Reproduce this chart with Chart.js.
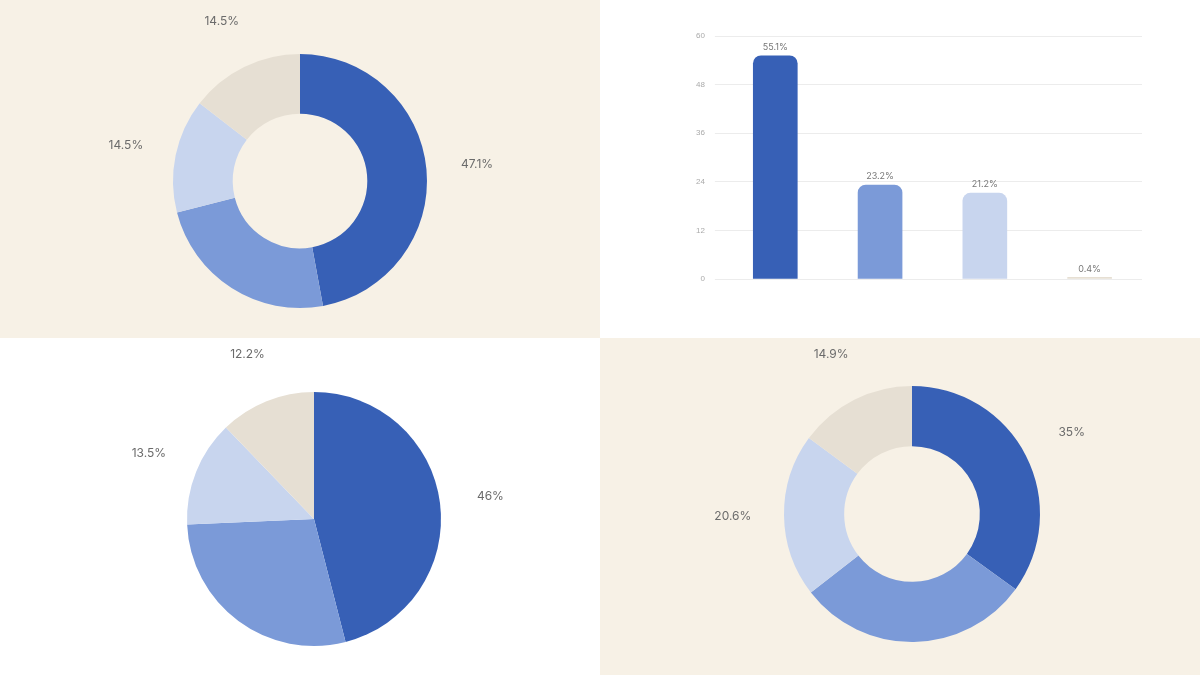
<!DOCTYPE html>
<html>
<head>
<meta charset="utf-8">
<script src="https://cdn.jsdelivr.net/npm/chart.js@4"></script>
<style>
  html, body { margin: 0; padding: 0; width: 1200px; height: 675px; overflow: hidden; font-family: Inter, sans-serif; }
  .grid { display: grid; grid-template-columns: 600px 600px; grid-template-rows: 337.5px 337.5px; }
  .cell { position: relative; }
  .beige { background: #F7F1E6; }
  canvas { display: block; }
</style>
</head>
<body>
<div class="grid">
  <div class="cell beige"><canvas id="c1" width="600" height="337"></canvas></div>
  <div class="cell"><canvas id="c2" width="600" height="337"></canvas></div>
  <div class="cell"><canvas id="c3" width="600" height="337"></canvas></div>
  <div class="cell beige"><canvas id="c4" width="600" height="337"></canvas></div>
</div>
<script>
const COLORS = ['#3760B6', '#7B9AD8', '#C8D5EE', '#E6DFD3'];
const LABELS = ['A', 'B', 'C', 'D'];

const donutTop = [47.1, 23.9, 14.5, 14.5];
const barValues = [55.1, 23.2, 21.2, 0.4];
const pieValues = [46, 28.3, 13.5, 12.2];
const donutBottom = [35, 29.5, 20.6, 14.9];
const hiddenLabel = 1; // second slice is not labelled in the reference

const outsideLabels = {
  id: 'outsideLabels',
  afterDatasetsDraw(chart) {
    const { ctx } = chart;
    const meta = chart.getDatasetMeta(0);
    const data = chart.data.datasets[0].data;
    ctx.save();
    ctx.font = '12px Inter, sans-serif';
    ctx.fillStyle = '#6b6b6b';
    ctx.textAlign = 'center';
    ctx.textBaseline = 'middle';
    meta.data.forEach((arc, i) => {
      if (i === hiddenLabel) return;
      const mid = (arc.startAngle + arc.endAngle) / 2;
      const r = arc.outerRadius * 1.4;
      ctx.fillText(data[i] + '%', arc.x + Math.cos(mid) * r, arc.y + Math.sin(mid) * r);
    });
    ctx.restore();
  },
};

const barLabels = {
  id: 'barLabels',
  afterDatasetsDraw(chart) {
    const { ctx } = chart;
    const meta = chart.getDatasetMeta(0);
    ctx.save();
    ctx.font = '9px Inter, sans-serif';
    ctx.fillStyle = '#777';
    ctx.textAlign = 'center';
    ctx.textBaseline = 'bottom';
    meta.data.forEach((bar, i) => {
      ctx.fillText(barValues[i] + '%', bar.x, bar.y - 4);
    });
    ctx.restore();
  },
};

function makeRound(id, values, cutout, padding) {
  return new Chart(document.getElementById(id), {
    type: 'doughnut',
    data: { labels: LABELS, datasets: [{ data: values, backgroundColor: COLORS, borderWidth: 0 }] },
    options: {
      responsive: false,
      animation: false,
      cutout: cutout,
      layout: { padding: padding },
      plugins: { legend: { display: false }, tooltip: { enabled: false } },
    },
    plugins: [outsideLabels],
  });
}

makeRound('c1', donutTop, '53%', { top: 54, bottom: 29, left: 0, right: 0 });
makeRound('c3', pieValues, 0, { top: 54, bottom: 29, left: 28, right: 0 });
makeRound('c4', donutBottom, '53%', { top: 48, bottom: 33, left: 24, right: 0 });

new Chart(document.getElementById('c2'), {
  type: 'bar',
  data: {
    labels: LABELS,
    datasets: [{
      data: barValues,
      backgroundColor: COLORS,
      borderRadius: { topLeft: 8, topRight: 8 },
      borderSkipped: 'bottom',
      barThickness: 44,
    }],
  },
  options: {
    responsive: false,
    animation: false,
    layout: { padding: { top: 36, bottom: 50, left: 86, right: 58 } },
    scales: {
      x: { grid: { display: false }, border: { display: false }, ticks: { display: false } },
      y: {
        min: 0, max: 60,
        ticks: { stepSize: 12, color: '#aaa', font: { size: 8 }, padding: 10 },
        grid: { color: '#ececec' },
        border: { display: false },
      },
    },
    plugins: { legend: { display: false }, tooltip: { enabled: false } },
  },
  plugins: [barLabels],
});
</script>
</body>
</html>
